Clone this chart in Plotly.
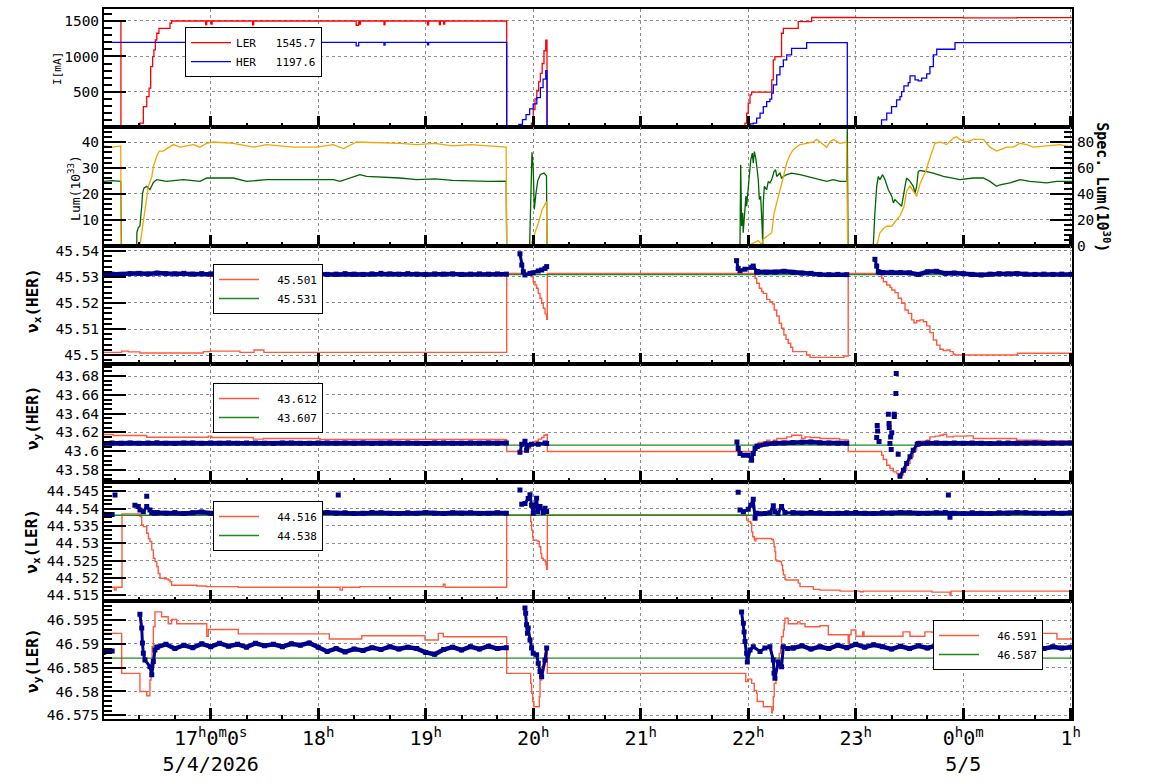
import pandas as pd
import plotly.graph_objects as go
from plotly.subplots import make_subplots

FONT = "DejaVu Sans Mono"
BASE = pd.Timestamp("2026-05-04 16:00:00")

# ---------------- x axis (minutes after 16:00 on 5/4/2026) ----------------
X_RANGE_MIN = [0.45, 540.7]
XTICK_MIN = [60, 120, 180, 240, 300, 360, 420, 480, 540]
XTICK_TEXT = ["17<sup>h</sup>0<sup>m</sup>0<sup>s</sup><br>5/4/2026", "18<sup>h</sup>", "19<sup>h</sup>",
              "20<sup>h</sup>", "21<sup>h</sup>", "22<sup>h</sup>", "23<sup>h</sup>",
              "0<sup>h</sup>0<sup>m</sup><br>5/5", "1<sup>h</sup>"]

# ---------------- panel 1 : beam currents ----------------
ler_t = [0.4, 9.9, 20.5, 22.4, 24.3, 25.6, 26.5, 27.6, 28.3, 29.1, 29.9, 31.1, 37.3, 38.2,
         57.2, 57.8, 60.2, 60.8, 83.4, 84.0, 141.2, 142.6, 143.0, 143.6, 156.7, 157.3,
         181.0, 181.6, 187.6, 188.2, 190.0, 190.6, 225.2,
         239.0, 240.0, 241.0, 242.0, 243.0, 244.0, 245.0, 246.0, 247.0, 247.7,
         356.3, 358.2, 359.1, 360.0, 361.0, 361.9, 373.1, 374.0, 374.9, 378.6, 379.6, 387.9,
         395.4, 420.0, 450.0, 480.0, 510.0, 540.7]
ler_i = [1500, 0, 59, 293, 434, 552, 856, 997, 1092, 1232, 1327, 1397, 1468, 1500,
         1450, 1500, 1455, 1500, 1445, 1500, 1440, 1500, 1455, 1500, 1450, 1500,
         1445, 1500, 1450, 1500, 1455, 1500, 0,
         60, 250, 400, 520, 640, 760, 900, 1080, 1230, 0,
         21, 59, 200, 341, 458, 496, 669, 951, 997, 1327, 1397, 1490,
         1549, 1546, 1548, 1545, 1547, 1545.7]
her_t = [0.4, 57.2, 57.8, 141.2, 142.6, 156.7, 157.3, 181.0, 181.6, 225.2,
         232.0, 234.0, 236.0, 238.0, 240.0, 242.0, 244.0, 245.5, 247.0, 247.7,
         356.3, 361.0, 362.8, 364.7, 366.6, 368.4, 370.3, 372.1, 373.1, 374.0, 375.9, 377.7,
         379.6, 381.5, 384.2, 392.6, 415.3,
         434.4, 437.3, 440.0, 442.8, 444.7, 445.6, 446.9, 449.3, 450.3, 453.1, 454.9, 456.8,
         459.6, 461.4, 463.3, 465.2, 475.4, 540.7]
her_i = [1197.6, 1150, 1197, 1150, 1197, 1160, 1197, 1165, 1197, 0,
         40, 110, 180, 260, 330, 420, 560, 680, 800, 0,
         21, 49, 59, 130, 200, 293, 363, 397, 482, 599, 739, 856,
         951, 1021, 1115, 1194, 0,
         106, 200, 293, 387, 434, 504, 585, 631, 725, 669, 655, 693,
         754, 856, 1021, 1101, 1194, 1197.6]

# ---------------- panel 2 : luminosity ----------------
lum_t = [0.4, 5.0, 9.8, 9.9, 10.2, 18.7, 18.8, 19.6, 20.5, 21.5, 22.0, 22.8, 24.3, 26.1, 27.1,
         28.0, 29.9, 35.4, 44.7, 54.0, 57.8, 63.3, 72.6, 80.1, 91.3, 109.9, 128.5, 132.2,
         143.3, 147.0, 165.6, 175.0, 185.0, 195.0, 205.0, 215.0, 224.9, 225.2,
         238.0, 238.6, 239.3, 240.0, 240.6, 241.5, 242.5, 244.0, 246.0, 247.4, 247.7,
         355.4, 355.8, 356.3, 356.9, 357.2, 357.8, 358.7, 359.1, 359.7, 360.6, 361.4, 362.3,
         362.8, 363.4, 364.2, 365.0, 365.6, 366.2, 366.9, 367.5, 368.1, 368.4, 369.0, 370.3,
         371.2, 372.1, 373.1, 374.4, 375.3, 375.9, 377.7, 378.6, 379.6, 381.5, 384.2, 388.9,
         392.6, 396.3, 400.0, 403.8, 407.5, 411.2, 414.9, 415.3, 415.7,
         429.8, 430.7, 431.7, 432.6, 433.5, 435.0, 436.3, 438.2, 440.1, 441.0, 441.9, 443.7,
         445.6, 447.5, 448.4, 450.3, 452.1, 453.1, 454.0, 454.9, 455.9, 459.6, 463.3, 468.9,
         474.4, 478.2, 485.6, 491.2, 494.9, 498.6, 500.5, 506.1, 511.7, 517.2, 526.6, 532.2, 540.7]
lum_v = [24.8, 25.1, 24.8, 19.0, 0, 0, 5.1, 7.0, 7.6, 15.2, 20.4, 22.3, 22.9, 21.6, 22.9,
         24.4, 25.5, 24.8, 25.5, 24.8, 26.1, 26.1, 26.1, 24.8, 25.5, 25.5, 25.5, 24.8,
         27.4, 26.7, 26.1, 25.5, 25.8, 25.2, 25.0, 24.8, 24.9, 0,
         0, 20, 36, 30, 14, 20, 25, 27.5, 28, 27, 0,
         0.2, 31.2, 7.6, 12.7, 5.0, 11.4, 19.1, 15.2, 20.4, 28.0, 33.1, 35.7,
         31.8, 36.3, 33.8, 29.3, 25.5, 17.8, 19.1, 11.4, 0.6, 16.5, 22.9, 21.6,
         24.8, 24.2, 25.5, 28.6, 29.3, 26.7, 28.0, 26.1, 26.7, 27.4, 28.0, 27.4,
         26.7, 26.1, 25.5, 24.8, 25.5, 24.8, 24.8, 45.2, 0,
         0.2, 12.7, 22.9, 26.7, 25.5, 27.4, 25.5, 21.6, 19.1, 16.5, 17.8, 16.5,
         15.2, 22.9, 26.1, 24.8, 22.9, 20.4, 22.9, 28.6, 29.0, 28.6, 28.0, 26.7,
         26.1, 25.5, 26.1, 26.1, 24.8, 22.9, 23.5, 24.2, 25.5, 24.8, 24.2, 24.8, 24.8]
slum_t = [0.4, 5.0, 9.8, 10.0, 20.5, 21.5, 22.4, 24.3, 25.2, 27.1, 28.0, 29.9, 31.3, 33.5, 37.3,
          39.1, 42.9, 50.3, 54.0, 57.8, 61.4, 72.6, 83.8, 91.2, 106.1, 119.1, 128.4, 134.0,
          141.5, 165.6, 175.0, 185.0, 195.0, 205.0, 215.0, 224.9, 225.2,
          238.0, 239.5, 241.0, 243.0, 245.0, 247.4, 247.7,
          360.0, 362.8, 365.6, 367.5, 368.4, 371.2, 373.1, 374.4, 375.9, 377.7, 378.6, 379.6,
          381.5, 383.3, 385.1, 387.0, 388.9, 392.6, 396.3, 398.2, 400.0, 401.9, 403.8, 405.6,
          407.5, 411.2, 414.9, 415.5,
          431.7, 433.5, 435.4, 437.3, 440.1, 442.8, 444.7, 446.9, 448.4, 450.3, 452.1, 454.0,
          455.9, 457.7, 459.6, 460.5, 462.4, 464.2, 467.0, 470.7, 474.4, 476.3, 478.2, 481.9,
          485.6, 491.2, 494.9, 498.6, 500.5, 504.2, 507.9, 511.7, 515.4, 519.1, 526.6, 534.0, 540.7]
slum_v = [77, 76, 77, 0, 0, 10, 20, 36, 46, 53, 61, 69, 73, 73, 76,
          78, 76, 78, 76, 79, 80, 79, 76, 78, 76, 76, 78, 75,
          80, 79, 78, 79, 77, 78, 77, 76, 0,
          0, 4, 10, 18, 28, 34, 0,
          0, 2, 4, 1, 5, 8, 10, 25, 33, 41, 46, 53,
          64, 70, 74, 76, 78, 79, 80, 82, 80, 78, 76, 80,
          82, 79, 80, 0,
          0, 10, 13, 15, 15, 20, 23, 30, 42, 46, 42, 38,
          48, 53, 59, 64, 71, 79, 80, 78, 83, 84, 82, 80,
          82, 82, 76, 73, 74, 76, 76, 79, 78, 76, 77, 78, 76]

# ---------------- tune panels: regular 5-minute samples of measured tune ----------------
grid_t = [0, 5, 10, 15, 20, 25, 30, 35, 40, 45, 50, 55, 60, 65, 70, 75, 80, 85, 90, 95,
          100, 105, 110, 115, 120, 125, 130, 135, 140, 145, 150, 155, 160, 165, 170, 175, 180,
          185, 190, 195, 200, 205, 210, 215, 220, 225, 230, 235, 240, 245, 250, 255, 260, 265,
          270, 275, 280, 285, 290, 295, 300, 305, 310, 315, 320, 325, 330, 335, 340, 345, 350,
          355, 360, 365, 370, 375, 380, 385, 390, 395, 400, 405, 410, 415, 420, 425, 430, 435,
          440, 445, 450, 455, 460, 465, 470, 475, 480, 485, 490, 495, 500, 505, 510, 515, 520,
          525, 530, 535, 540]
N = None
nux_her = [45.5309, 45.5311, 45.5310, 45.5313, 45.5314, 45.5312, 45.5315, 45.5313, 45.5312, 45.5314,
           45.5311, 45.5313, 45.5312, 45.5310, 45.5312, 45.5311, 45.5313, 45.5310, 45.5311, 45.5312,
           45.5310, 45.5312, 45.5311, 45.5313, 45.5312, 45.5310, 45.5311, 45.5313, 45.5311, 45.5310,
           45.5312, 45.5314, 45.5312, 45.5311, 45.5313, 45.5311, 45.5310, 45.5312, 45.5311, 45.5312,
           45.5310, 45.5311, 45.5312, 45.5311, 45.5312, 45.5311,
           N, N, N, N, N, N, N, N, N, N, N, N, N, N, N, N, N, N, N, N, N, N, N, N, N, N, N,
           45.5320, 45.5318, 45.5319, 45.5322, 45.5318, 45.5315, 45.5314, 45.5310, 45.5309, 45.5310, 45.5309,
           N, N, N,
           45.5317, 45.5318, 45.5317, 45.5316, 45.5310, 45.5320, 45.5322, 45.5314, 45.5315, 45.5313,
           45.5310, 45.5308, 45.5311, 45.5313, 45.5312, 45.5313, 45.5311, 45.5310, 45.5311, 45.5310,
           45.5311, 45.5310]
nuy_her = [43.6083, 43.6087, 43.6085, 43.6088, 43.6084, 43.6086, 43.6089, 43.6085, 43.6083, 43.6087,
           43.6086, 43.6084, 43.6088, 43.6085, 43.6087, 43.6084, 43.6086, 43.6088, 43.6085, 43.6083,
           43.6086, 43.6087, 43.6084, 43.6085, 43.6088, 43.6086, 43.6084, 43.6087, 43.6085, 43.6086,
           43.6083, 43.6085, 43.6087, 43.6084, 43.6086, 43.6085, 43.6083, 43.6086, 43.6088, 43.6085,
           43.6084, 43.6086, 43.6085, 43.6087, 43.6085, 43.6086,
           N, N, N, N, N, N, N, N, N, N, N, N, N, N, N, N, N, N, N, N, N, N, N, N, N, N, N,
           43.6053, 43.6076, 43.6084, 43.6088, 43.6092, 43.6095, 43.6098, 43.6090, 43.6086, 43.6084, 43.6085,
           N, N, N, N, N, N, N,
           43.6080, 43.6086, 43.6088, 43.6085, 43.6087, 43.6084, 43.6086, 43.6085, 43.6083, 43.6086,
           43.6087, 43.6085, 43.6084, 43.6086, 43.6085, 43.6087, 43.6085, 43.6086]
nux_ler = [44.5384, 44.5383, N, N, N, N,
           44.5388, 44.5387, 44.5389, 44.5386, 44.5388, 44.5390, 44.5387, 44.5386, 44.5388, 44.5387,
           44.5389, 44.5388, 44.5386, 44.5387, 44.5389, 44.5388, 44.5387, 44.5386, 44.5388, 44.5389,
           44.5387, 44.5388, 44.5386, 44.5387, 44.5389, 44.5388, 44.5387, 44.5386, 44.5388, 44.5387,
           44.5389, 44.5387, 44.5386, 44.5388, 44.5387, 44.5388, 44.5386, 44.5387, 44.5388, 44.5387,
           N, N, N, N, N, N, N, N, N, N, N, N, N, N, N, N, N, N, N, N, N, N, N, N, N, N, N, N, N, N, N,
           44.5388, 44.5387, 44.5389, 44.5388, 44.5386, 44.5387, 44.5388, 44.5389, 44.5387, 44.5386,
           44.5388, 44.5387, 44.5389, 44.5388, 44.5386, 44.5387, 44.5388, 44.5389, 44.5387, 44.5386,
           44.5388, 44.5387, 44.5386, 44.5388, 44.5387, 44.5389, 44.5388, 44.5387, 44.5386, 44.5388,
           44.5387, 44.5388]
nuy_ler = [46.5882, 46.5885, N, N, N, N,
           46.5893, 46.5899, 46.5890, 46.5897, 46.5892, 46.5900, 46.5894, 46.5901, 46.5895, 46.5899,
           46.5893, 46.5901, 46.5896, 46.5899, 46.5894, 46.5900, 46.5897, 46.5902, 46.5893, 46.5884,
           46.5890, 46.5883, 46.5889, 46.5886, 46.5892, 46.5888, 46.5894, 46.5889, 46.5893, 46.5890,
           46.5882, 46.5878, 46.5888, 46.5893, 46.5887, 46.5894, 46.5889, 46.5895, 46.5890, 46.5892,
           N, N, N, N, N, N, N, N, N, N, N, N, N, N, N, N, N, N, N, N, N, N, N, N, N, N, N, N, N, N, N,
           46.5891, 46.5896, 46.5889, 46.5894, 46.5890, 46.5897, 46.5892, 46.5899, 46.5893, 46.5898,
           46.5894, 46.5889, 46.5895, 46.5890, 46.5896, 46.5891, 46.5897, 46.5890, 46.5895, 46.5889,
           46.5894, 46.5891, 46.5897, 46.5892, 46.5889, 46.5895, 46.5891, 46.5896, 46.5890, 46.5894,
           46.5891, 46.5893]

# measured tune around beam injection (denser samples)
nux_her_burst = [
    ([232.6, 233.6, 234.5, 235.4, 238.2, 240.0, 242.8, 244.7, 246.6, 247.5],
     [45.5389, 45.5346, 45.5320, 45.5308, 45.5314, 45.5316, 45.5323, 45.5327, 45.5333, 45.5340]),
    ([353.5, 354.4, 355.4, 358.2, 361.9, 362.8, 364.7, 365.0],
     [45.5363, 45.5333, 45.5324, 45.5330, 45.5337, 45.5342, 45.5320, 45.5320]),
    ([430.7, 431.7, 432.6, 433.5, 435.0],
     [45.5368, 45.5342, 45.5320, 45.5318, 45.5317]),
]
nuy_her_burst = [
    ([232.6, 233.6, 235.4, 236.3, 237.2, 239.1, 242.8, 246.6, 247.5],
     [43.5989, 43.6074, 43.6106, 43.6010, 43.6064, 43.6074, 43.6074, 43.6088, 43.6082]),
    ([353.7, 354.4, 355.4, 357.3, 360.0, 361.9, 362.8, 363.8, 365.0],
     [43.6099, 43.6029, 43.5976, 43.5957, 43.5957, 43.5904, 43.5976, 43.6029, 43.6053]),
    ([444.7, 446.6, 448.4, 450.3, 452.1, 454.3, 455.0],
     [43.5734, 43.5798, 43.5869, 43.5940, 43.6011, 43.6074, 43.6080]),
]
nuy_her_out_t = [431.7, 432.0, 432.2, 433.0, 438.2, 438.6, 438.7, 439.1, 439.5, 439.8, 440.1,
                 441.5, 441.5, 442.4, 442.6, 443.7]
nuy_her_out_v = [43.6146, 43.6273, 43.6216, 43.6103, 43.6394, 43.6295, 43.6252, 43.6082, 43.6152,
                 43.6018, 43.6195, 43.6394, 43.6370, 43.6614, 43.6827, 43.5968]
nux_ler_burst = [
    ([17.7, 19.6, 20.5, 22.4, 24.3, 26.1, 27.1, 28.5, 30.0],
     [44.5410, 44.5406, 44.5396, 44.5391, 44.5406, 44.5396, 44.5389, 44.5387, 44.5388]),
    ([233.6, 235.4, 237.2, 238.2, 239.1, 240.0, 241.9, 242.5, 243.8, 245.6, 246.6, 247.5],
     [44.5413, 44.5415, 44.5429, 44.5440, 44.5410, 44.5387, 44.5430, 44.5391, 44.5406, 44.5389,
      44.5401, 44.5392]),
    ([355.4, 357.3, 360.0, 361.4, 362.8, 363.8, 364.7, 366.6, 369.3, 372.1, 374.0, 374.9, 376.6,
      378.6, 380.5, 385.0],
     [44.5396, 44.5391, 44.5398, 44.5410, 44.5427, 44.5372, 44.5387, 44.5385, 44.5386, 44.5388,
      44.5408, 44.5391, 44.5386, 44.5406, 44.5389, 44.5388]),
]
nux_ler_out_t = [6.6, 24.3, 131.2, 232.6, 354.4, 471.7, 472.6]
nux_ler_out_v = [44.5439, 44.5436, 44.5439, 44.5454, 44.5447, 44.5439, 44.5375]
nuy_ler_burst = [
    ([20.5, 21.5, 21.9, 22.4, 23.3, 26.1, 27.1, 28.0, 28.9, 30.0],
     [46.5962, 46.5933, 46.5902, 46.5880, 46.5866, 46.5852, 46.5835, 46.5863, 46.5887, 46.5893]),
    ([235.4, 235.8, 236.3, 236.8, 237.2, 238.2, 239.1, 240.0, 241.9, 242.8, 243.8, 244.7, 246.6, 247.5],
     [46.5975, 46.5964, 46.5940, 46.5922, 46.5933, 46.5908, 46.5891, 46.5880, 46.5877, 46.5859,
      46.5842, 46.5831, 46.5866, 46.5891]),
    ([356.3, 357.3, 357.7, 358.2, 359.1, 359.5, 361.0, 362.8, 366.6, 369.3, 372.1, 374.0, 374.4,
      374.9, 376.8, 378.6, 379.6, 382.0, 385.0],
     [46.5967, 46.5943, 46.5925, 46.5905, 46.5880, 46.5862, 46.5887, 46.5894, 46.5884, 46.5891,
      46.5894, 46.5866, 46.5838, 46.5828, 46.5862, 46.5852, 46.5894, 46.5890, 46.5891]),
]

# ---------------- tune set values (red) and reference (green) ----------------
nux_her_set_t = [0.4, 10.3, 14.0, 20.5, 55.9, 59.6, 76.3, 84.2, 89.7, 225.2,
                 239.1, 240.0, 241.0, 241.9, 242.8, 243.8, 244.7, 245.6, 246.6, 247.5, 247.9,
                 363.8, 364.7, 366.2, 367.5, 368.4, 370.3, 372.1, 373.6, 374.5, 375.9, 377.3, 378.6,
                 379.9, 381.1, 382.3, 383.7, 384.8, 392.6, 394.5, 413.4, 415.8,
                 434.5, 435.4, 437.3, 439.1, 440.1, 441.9, 443.7, 445.6, 447.5, 449.3, 451.2, 452.5,
                 454.0, 455.9, 457.7, 459.6, 461.4, 463.3, 465.2, 467.0, 468.9, 470.7, 472.6, 474.4,
                 475.4, 510.2, 540.7]
nux_her_set = [45.5010, 45.5015, 45.5012, 45.5008, 45.5013, 45.5015, 45.5010, 45.5019, 45.5010, 45.5314,
               45.5301, 45.5282, 45.5269, 45.5257, 45.5237, 45.5218, 45.5199, 45.5180, 45.5158, 45.5137, 45.5314,
               45.5295, 45.5276, 45.5257, 45.5244, 45.5237, 45.5214, 45.5205, 45.5196, 45.5173, 45.5150, 45.5122, 45.5103,
               45.5077, 45.5060, 45.5045, 45.5030, 45.5013, 45.5000, 45.4991, 45.4996, 45.5314,
               45.5295, 45.5282, 45.5269, 45.5260, 45.5250, 45.5240, 45.5218, 45.5199, 45.5173, 45.5160, 45.5135, 45.5124,
               45.5132, 45.5135, 45.5128, 45.5112, 45.5086, 45.5058, 45.5038, 45.5022, 45.5017, 45.5019, 45.5013, 45.5003,
               45.5000, 45.5007, 45.5007]
nuy_her_set_t = [0.4, 5.6, 24.3, 58.7, 60.5, 83.8, 89.4, 121.0, 225.2,
                 237.3, 238.6, 239.7, 241.0, 242.8, 244.7, 246.0, 247.1, 247.9,
                 363.8, 365.0, 365.6, 367.5, 368.4, 370.3, 372.1, 374.0, 375.9, 381.5, 384.2, 389.8,
                 391.7, 394.5, 400.0, 411.0, 415.8,
                 434.5, 435.4, 437.3, 439.1, 441.0, 442.8, 444.7, 446.6, 448.4, 450.3, 452.1, 454.0,
                 454.9, 459.6, 461.4, 464.2, 467.0, 468.9, 470.7, 474.4, 481.9, 485.6, 509.8, 523.8, 540.7]
nuy_her_set = [43.6178, 43.6167, 43.6149, 43.6160, 43.6146, 43.6128, 43.6135, 43.6124, 43.5997,
               43.6029, 43.6064, 43.6099, 43.6106, 43.6128, 43.6146, 43.6170, 43.6178, 43.5997,
               43.6029, 43.6074, 43.6093, 43.6088, 43.6099, 43.6117, 43.6099, 43.6117, 43.6135, 43.6152, 43.6170, 43.6135,
               43.6152, 43.6146, 43.6135, 43.6120, 43.5997,
               43.5957, 43.5912, 43.5851, 43.5816, 43.5780, 43.5763, 43.5745, 43.5798, 43.5869, 43.5940, 43.6011, 43.6074,
               43.6106, 43.6117, 43.6152, 43.6160, 43.6170, 43.6181, 43.6152, 43.6160, 43.6163, 43.6135, 43.6117, 43.6110, 43.6110]
nux_ler_set_t = [0.4, 6.3, 7.2, 10.5, 20.5, 21.5, 22.4, 24.3, 25.2, 26.1, 27.1, 28.0, 28.9, 29.9, 30.7,
                 31.7, 34.5, 36.3, 37.3, 38.2, 52.2, 57.8, 75.4, 132.2, 133.5, 143.3, 189.8, 190.8, 225.2,
                 238.6, 239.1, 239.7, 240.0, 241.9, 242.8, 243.4, 244.2, 244.7, 245.6, 246.6, 247.1, 247.5, 247.9,
                 359.1, 360.0, 361.4, 361.9, 362.5, 363.4, 363.8, 364.3, 373.1, 374.0, 374.4, 374.9, 375.3,
                 375.9, 377.7, 378.6, 379.2, 379.6, 380.5, 381.1, 387.9, 388.9, 396.3, 400.0, 411.2, 422.4,
                 424.2, 462.6, 472.6, 473.2, 540.7]
nux_ler_set = [44.5173, 44.5165, 44.5173, 44.5385, 44.5377, 44.5353, 44.5348, 44.5329, 44.5314, 44.5305, 44.5281,
               44.5257, 44.5247, 44.5233, 44.5213, 44.5199, 44.5197, 44.5194, 44.5189, 44.5179, 44.5177, 44.5175,
               44.5173, 44.5165, 44.5173, 44.5175, 44.5182, 44.5173, 44.5382,
               44.5362, 44.5338, 44.5319, 44.5309, 44.5307, 44.5305, 44.5290, 44.5271, 44.5257, 44.5252, 44.5247,
               44.5237, 44.5225, 44.5382,
               44.5367, 44.5362, 44.5358, 44.5333, 44.5319, 44.5311, 44.5307, 44.5314, 44.5311, 44.5305, 44.5290,
               44.5276, 44.5252, 44.5249, 44.5247, 44.5237, 44.5223, 44.5209, 44.5196, 44.5194, 44.5185, 44.5175,
               44.5167, 44.5165, 44.5162, 44.5160, 44.5162, 44.5159, 44.5151, 44.5162, 44.5162]
nuy_ler_set_t = [0.4, 10.3, 20.5, 24.3, 26.1, 26.7, 27.3, 28.0, 28.9, 32.6, 36.3, 38.2, 41.0, 57.8, 58.7,
                 75.4, 126.2, 144.3, 179.6, 187.0, 189.8, 225.2,
                 238.6, 239.1, 239.7, 240.4, 243.4, 243.8, 244.7, 245.6, 246.6, 247.1, 247.9,
                 358.6, 359.7, 361.9, 363.4, 364.7, 365.0, 368.4, 373.1, 373.4, 374.0, 374.5, 375.5,
                 376.2, 377.3, 378.1, 378.6, 379.6, 380.1, 380.5, 382.3, 387.6, 388.9, 391.7, 400.0,
                 404.7, 415.8, 416.4, 417.4, 420.1, 423.9, 424.6, 446.4, 450.3, 458.6, 462.6, 470.4,
                 489.3, 496.0, 505.0, 515.0, 532.3, 540.7]
nuy_ler_set = [46.5922, 46.5838, 46.5800, 46.5791, 46.5824, 46.5860, 46.5894, 46.5936, 46.5967, 46.5957,
               46.5942, 46.5951, 46.5942, 46.5916, 46.5930, 46.5921, 46.5910, 46.5917, 46.5908, 46.5922,
               46.5915, 46.5838,
               46.5817, 46.5796, 46.5779, 46.5768, 46.5789, 46.5824, 46.5852, 46.5866, 46.5880, 46.5891, 46.5838,
               46.5821, 46.5826, 46.5817, 46.5802, 46.5796, 46.5779, 46.5768, 46.5755, 46.5761, 46.5789,
               46.5817, 46.5845, 46.5866, 46.5880, 46.5894, 46.5915, 46.5929, 46.5943, 46.5954, 46.5942,
               46.5946, 46.5942, 46.5936, 46.5938, 46.5919, 46.5901, 46.5919, 46.5929, 46.5916, 46.5925,
               46.5916, 46.5925, 46.5916, 46.5925, 46.5924, 46.5923, 46.5903, 46.5910, 46.5919, 46.5922,
               46.5910, 46.5910]
ref_t = [0.4, 540.7]
nux_her_ref = [45.5309, 45.5309]
nuy_her_ref = [43.6065, 43.6065]
nux_ler_ref = [44.5381, 44.5381]
nuy_ler_ref = [46.5870, 46.5870]

LEGEND_TEXT = {
    "ler": "LER\u00a0\u00a0\u00a01545.7", "her": "HER\u00a0\u00a0\u00a01197.6",
    "p3r": "\u00a0\u00a045.501", "p3g": "\u00a0\u00a045.531",
    "p4r": "\u00a0\u00a043.612", "p4g": "\u00a0\u00a043.607",
    "p5r": "\u00a0\u00a044.516", "p5g": "\u00a0\u00a044.538",
    "p6r": "\u00a0\u00a046.591", "p6g": "\u00a0\u00a046.587",
}

# y axis ticks
Y1_TV = [500, 1000, 1500]
Y2_TV = [10, 20, 30, 40]
Y2R_TV = [0, 20, 40, 60, 80]
Y3_TV = [45.50, 45.51, 45.52, 45.53, 45.54]
Y3_TT = ["45.5", "45.51", "45.52", "45.53", "45.54"]
Y4_TV = [43.58, 43.60, 43.62, 43.64, 43.66, 43.68]
Y4_TT = ["43.58", "43.6", "43.62", "43.64", "43.66", "43.68"]
Y5_TV = [44.515, 44.52, 44.525, 44.53, 44.535, 44.54, 44.545]
Y5_TT = ["44.515", "44.52", "44.525", "44.53", "44.535", "44.54", "44.545"]
Y6_TV = [46.575, 46.58, 46.585, 46.59, 46.595]
Y6_TT = ["46.575", "46.58", "46.585", "46.59", "46.595"]


def T(mins):
    return [BASE + pd.Timedelta(minutes=m) for m in mins]


RED = "#ff0000"
BLUE = "#0000ff"
LGREEN = "#006400"
ORANGE = "#f2a600"
TRED = "#ff5a3c"
TGREEN = "#1f8b1f"
NAVY = "#00008b"

fig = make_subplots(rows=6, cols=1, shared_xaxes=True, vertical_spacing=0,
                    specs=[[{}], [{"secondary_y": True}], [{}], [{}], [{}], [{}]])

# panel 1
fig.add_trace(go.Scatter(x=T(ler_t), y=ler_i, mode="lines", line=dict(color=RED, width=1.3, shape="hv"),
                         name=LEGEND_TEXT["ler"], legend="legend"), row=1, col=1)
fig.add_trace(go.Scatter(x=T(her_t), y=her_i, mode="lines", line=dict(color=BLUE, width=1.3, shape="hv"),
                         name=LEGEND_TEXT["her"], legend="legend"), row=1, col=1)
# panel 2
fig.add_trace(go.Scatter(x=T(slum_t), y=slum_v, mode="lines", line=dict(color=ORANGE, width=1.3),
                         showlegend=False), row=2, col=1, secondary_y=True)
fig.add_trace(go.Scatter(x=T(lum_t), y=lum_v, mode="lines", line=dict(color=LGREEN, width=1.3),
                         showlegend=False), row=2, col=1, secondary_y=False)


def tune_panel(row, set_t, set_v, ref_v, grid_v, bursts, out, rkey, gkey, leg):
    fig.add_trace(go.Scatter(x=T(set_t), y=set_v, mode="lines", line=dict(color=TRED, width=1.4, shape="hv"),
                             name=LEGEND_TEXT[rkey], legend=leg), row=row, col=1)
    fig.add_trace(go.Scatter(x=T(ref_t), y=ref_v, mode="lines", line=dict(color=TGREEN, width=1.4),
                             name=LEGEND_TEXT[gkey], legend=leg), row=row, col=1)
    fig.add_trace(go.Scatter(x=T(grid_t), y=grid_v, mode="lines+markers",
                             line=dict(color=NAVY, width=4.5), marker=dict(color=NAVY, symbol="square", size=5),
                             showlegend=False), row=row, col=1)
    for bt, bv in bursts:
        fig.add_trace(go.Scatter(x=T(bt), y=bv, mode="lines+markers",
                                 line=dict(color=NAVY, width=3), marker=dict(color=NAVY, symbol="square", size=5),
                                 showlegend=False), row=row, col=1)
    if out is not None:
        fig.add_trace(go.Scatter(x=T(out[0]), y=out[1], mode="markers",
                                 marker=dict(color=NAVY, symbol="square", size=5), showlegend=False), row=row, col=1)


tune_panel(3, nux_her_set_t, nux_her_set, nux_her_ref, nux_her, nux_her_burst, None, "p3r", "p3g", "legend2")
tune_panel(4, nuy_her_set_t, nuy_her_set, nuy_her_ref, nuy_her, nuy_her_burst, (nuy_her_out_t, nuy_her_out_v),
           "p4r", "p4g", "legend3")
tune_panel(5, nux_ler_set_t, nux_ler_set, nux_ler_ref, nux_ler, nux_ler_burst, (nux_ler_out_t, nux_ler_out_v),
           "p5r", "p5g", "legend4")
tune_panel(6, nuy_ler_set_t, nuy_ler_set, nuy_ler_ref, nuy_ler, nuy_ler_burst, None, "p6r", "p6g", "legend5")

GRID = "#8c8c8c"
for r in range(1, 7):
    fig.update_xaxes(row=r, col=1, domain=[0, 1], type="date", range=T(X_RANGE_MIN), tickmode="array",
                     tickvals=T(XTICK_MIN), ticktext=XTICK_TEXT, ticks="inside", ticklen=11, tickwidth=2.5,
                     tickcolor="black", showline=True, linewidth=2, linecolor="black", mirror=True,
                     showgrid=True, gridcolor=GRID, griddash="dot", gridwidth=1, zeroline=False,
                     automargin=False, showticklabels=(r == 6),
                     tickfont=dict(family=FONT, size=20, color="black"),
                     minor=dict(ticks="inside", ticklen=4, tickwidth=1.5, tickcolor="black",
                                tickmode="linear", tick0=BASE, dtick=20 * 60 * 1000, showgrid=False))

YCOMMON = dict(ticks="inside", ticklen=22, tickwidth=2, tickcolor="black", showline=True, linewidth=2,
               linecolor="black", mirror=True, showgrid=True, gridcolor=GRID, griddash="dot", gridwidth=1,
               zeroline=False, automargin=False, tickfont=dict(family=FONT, size=14.5, color="black"))


def ymin(d):
    return dict(ticks="inside", ticklen=8, tickwidth=2, tickcolor="black", dtick=d, showgrid=False)


fig.update_yaxes(row=1, col=1, range=[0, 1669], tickmode="array", tickvals=Y1_TV, minor=ymin(100), **YCOMMON)
fig.update_yaxes(row=2, col=1, secondary_y=False, range=[0, 45.66], tickmode="array", tickvals=Y2_TV,
                 minor=ymin(2), **YCOMMON)
fig.update_yaxes(row=2, col=1, secondary_y=True, range=[0, 91.32], tickmode="array", tickvals=Y2R_TV,
                 ticks="inside", ticklen=22, tickwidth=2, tickcolor="black", showline=True, linewidth=2,
                 linecolor="black", showgrid=False, zeroline=False, automargin=False,
                 tickfont=dict(family=FONT, size=14.5, color="black"), minor=ymin(4))
fig.update_yaxes(row=3, col=1, range=[45.49654, 45.54205], tickmode="array", tickvals=Y3_TV, ticktext=Y3_TT,
                 minor=ymin(0.002), **YCOMMON)
fig.update_yaxes(row=4, col=1, range=[43.56688, 43.69277], tickmode="array", tickvals=Y4_TV, ticktext=Y4_TT,
                 minor=ymin(0.005), **YCOMMON)
fig.update_yaxes(row=5, col=1, range=[44.51345, 44.54759], tickmode="array", tickvals=Y5_TV, ticktext=Y5_TT,
                 minor=ymin(0.00125), **YCOMMON)
fig.update_yaxes(row=6, col=1, range=[46.57422, 46.59906], tickmode="array", tickvals=Y6_TV, ticktext=Y6_TT,
                 minor=ymin(0.001), **YCOMMON)

LEG = dict(bgcolor="white", bordercolor="black", borderwidth=1, xanchor="left", yanchor="top",
           font=dict(family=FONT, size=11, color="black"), tracegroupgap=0, itemwidth=40)
fig.update_layout(
    template="none", width=1154, height=782, margin=dict(l=104, r=82, t=9, b=63),
    paper_bgcolor="white", plot_bgcolor="white", font=dict(family=FONT, color="black"),
    showlegend=True,
    legend=dict(x=0.0837, y=0.9746, **LEG),
    legend2=dict(x=0.1126, y=0.6408, **LEG),
    legend3=dict(x=0.1126, y=0.4732, **LEG),
    legend4=dict(x=0.1126, y=0.3070, **LEG),
    legend5=dict(x=0.8564, y=0.1394, **LEG),
)

ann = [
    dict(text="I[mA]", x=-0.0486, y=0.9169, size=11, angle=-90),
    dict(text="Lum(10<sup>33</sup>)", x=-0.031, y=0.748, size=13, angle=-90),
    dict(text="<b>ν<sub>x</sub>(HER)</b>", x=-0.0735, y=0.590, size=16, angle=-90),
    dict(text="<b>ν<sub>y</sub>(HER)</b>", x=-0.0735, y=0.425, size=16, angle=-90),
    dict(text="<b>ν<sub>x</sub>(LER)</b>", x=-0.0735, y=0.251, size=16, angle=-90),
    dict(text="<b>ν<sub>y</sub>(LER)</b>", x=-0.0735, y=0.083, size=16, angle=-90),
    dict(text="<b>Spec. Lum(10<sup>30</sup>)</b>", x=1.032, y=0.749, size=15, angle=90),
]
for a in ann:
    fig.add_annotation(text=a["text"], x=a["x"], y=a["y"], xref="paper", yref="paper", showarrow=False,
                       textangle=a["angle"], xanchor="center", yanchor="middle",
                       font=dict(family=FONT, size=a["size"], color="black"))

fig.write_html("out.html")
